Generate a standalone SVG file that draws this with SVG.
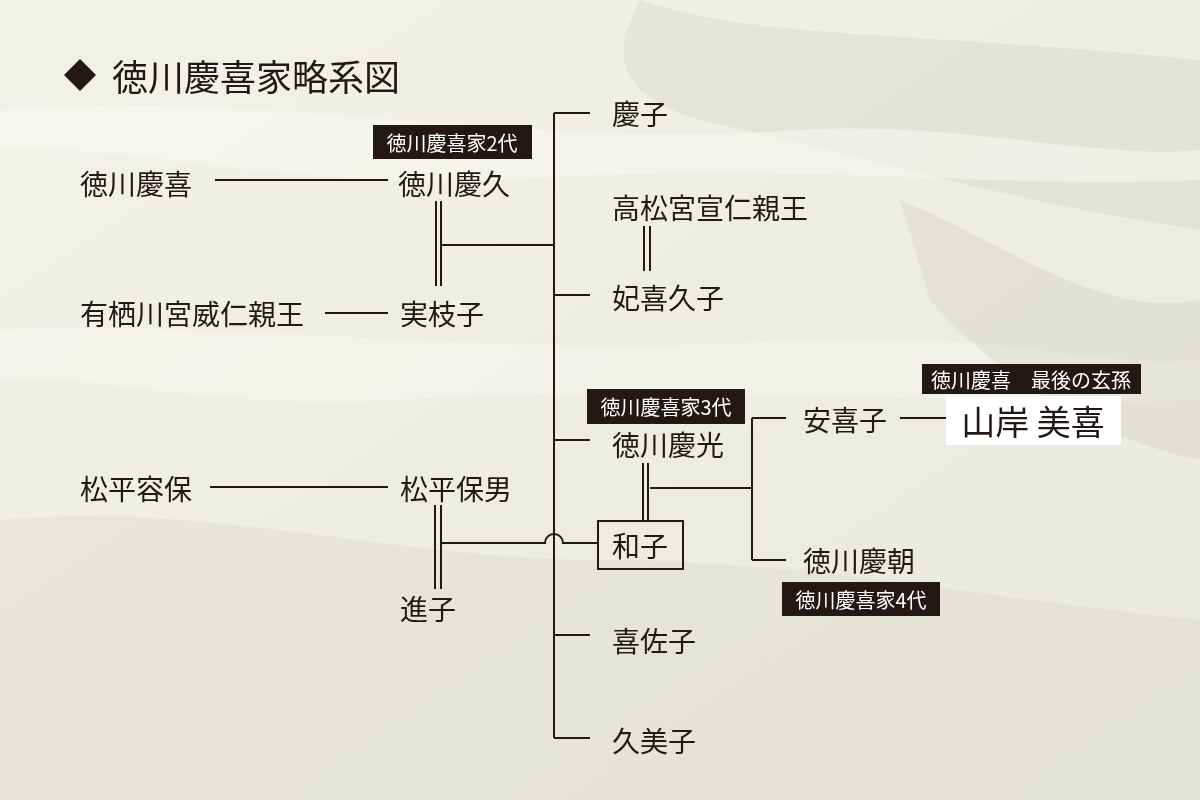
<svg xmlns="http://www.w3.org/2000/svg" width="1200" height="800" viewBox="0 0 1200 800">
<defs>
<style>
.n{font-family:"Noto Sans CJK JP","Noto Sans",sans-serif;font-size:28px;fill:#231815;dominant-baseline:central}
.l{font-family:"Noto Sans CJK JP","Noto Sans",sans-serif;font-size:20px;fill:#ffffff;dominant-baseline:central;text-anchor:middle}
.c{fill:none;stroke:#231815;stroke-width:2}
.tag{fill:#231815}
</style>
<linearGradient id="bg" x1="0" y1="0" x2="1" y2="1">
<stop offset="0" stop-color="#f3f2ea"/>
<stop offset="1" stop-color="#e9e8dd"/>
</linearGradient>
</defs>
<rect width="1200" height="800" fill="url(#bg)"/>
<g id="background" opacity="0.5">
<path d="M640 0 C760 40 900 30 1200 60 L1200 230 C1000 200 880 160 700 120 C600 90 620 40 640 0Z" fill="#c9c8b8" opacity="0.5"/>
<path d="M0 520 C200 500 400 560 600 560 C800 560 1000 600 1200 620 L1200 800 L0 800Z" fill="#d6d4c6" opacity="0.6"/>
<path d="M0 110 C300 90 500 150 800 130 C950 120 1100 160 1200 150 L1200 180 C1000 190 800 160 500 180 C300 190 100 140 0 150Z" fill="#ffffff" opacity="0.6"/>
<path d="M0 330 C250 320 500 360 800 340 C1000 330 1100 370 1200 360 L1200 400 C1000 410 700 380 400 400 C200 410 80 370 0 380Z" fill="#ffffff" opacity="0.5"/>
<path d="M900 200 C1000 240 1100 320 1200 300 L1200 460 C1100 440 1000 380 930 300Z" fill="#bdbcae" opacity="0.4"/>
</g>
<g id="title">
<path d="M80 59 L96 75 L80 91 L64 75Z" fill="#231815"/>
<text x="112" y="75" class="n" style="font-size:36px">徳川慶喜家略系図</text>
</g>
<g id="connectors">
<path class="c" d="M554 113 V738"/>
<path class="c" d="M554 113 H590 M554 295 H590 M554 440 H590 M554 635 H590 M554 738 H590"/>
<path class="c" d="M442 245 H554"/>
<path class="c" d="M436 201 V286 M441 201 V286"/>
<path class="c" d="M215 180 H388"/>
<path class="c" d="M325 313 H388"/>
<path class="c" d="M210 487 H388"/>
<path class="c" d="M435 505 V589 M441 505 V589"/>
<path class="c" d="M442 543 H545 A9 9 0 0 1 563 543 H598"/>
<path class="c" d="M644 226 V271 M650 226 V271"/>
<path class="c" d="M643 463 V521 M648 463 V521"/>
<path class="c" d="M650 488 H752 M752 418 V560 M752 418 H786 M752 560 H786"/>
<path class="c" d="M900 418 H946"/>
</g>
<g id="node-keiko"><text x="612" y="113" class="n">慶子</text></g>
<g id="node-yoshinobu"><text x="80" y="183" class="n">徳川慶喜</text></g>
<g id="node-yoshihisa">
<rect class="tag" x="373" y="125" width="159" height="34"/>
<text x="452" y="142" class="l">徳川慶喜家2代</text>
<text x="398" y="183" class="n">徳川慶久</text>
</g>
<g id="node-takamatsu"><text x="612" y="207" class="n">高松宮宣仁親王</text></g>
<g id="node-kikuko"><text x="612" y="297" class="n">妃喜久子</text></g>
<g id="node-arisugawa"><text x="80" y="313" class="n">有栖川宮威仁親王</text></g>
<g id="node-saneeko"><text x="400" y="313" class="n">実枝子</text></g>
<g id="node-akiko"><text x="803" y="419" class="n">安喜子</text></g>
<g id="node-miki">
<rect class="tag" x="922" y="364" width="219" height="30"/>
<text x="1031" y="379" class="l">徳川慶喜　最後の玄孫</text>
<rect x="946" y="396" width="175" height="49" fill="#ffffff"/>
<text x="1033" y="420" class="n" style="font-size:34px;text-anchor:middle">山岸 美喜</text>
</g>
<g id="node-yoshimitsu">
<rect class="tag" x="587" y="389" width="158" height="35"/>
<text x="666" y="406" class="l">徳川慶喜家3代</text>
<text x="612" y="444" class="n">徳川慶光</text>
</g>
<g id="node-katamori"><text x="80" y="488" class="n">松平容保</text></g>
<g id="node-morio"><text x="400" y="488" class="n">松平保男</text></g>
<g id="node-kazuko">
<rect x="598" y="521" width="85" height="48" fill="none" stroke="#231815" stroke-width="2"/>
<text x="640" y="545" class="n" style="text-anchor:middle">和子</text>
</g>
<g id="node-yoshitomo">
<text x="803" y="560" class="n">徳川慶朝</text>
<rect class="tag" x="782" y="582" width="158" height="34"/>
<text x="861" y="599" class="l">徳川慶喜家4代</text>
</g>
<g id="node-yukiko"><text x="400" y="608" class="n">進子</text></g>
<g id="node-kisako"><text x="612" y="640" class="n">喜佐子</text></g>
<g id="node-kumiko"><text x="612" y="740" class="n">久美子</text></g>
</svg>
